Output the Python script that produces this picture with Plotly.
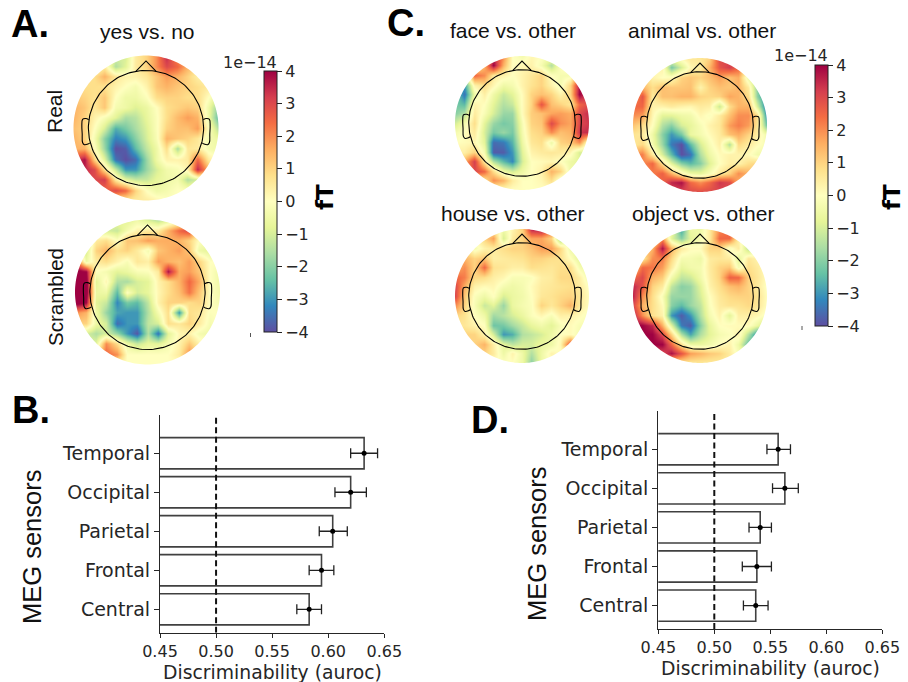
import numpy as np
import plotly.graph_objects as go

W, H = 908, 682

# ---- bar panels -------------------------------------------------------
sensors = ["Central", "Frontal", "Parietal", "Occipital", "Temporal"]
b_values = [0.583, 0.594, 0.604, 0.620, 0.632]
b_low = [0.572, 0.583, 0.592, 0.606, 0.620]
b_high = [0.594, 0.605, 0.617, 0.634, 0.644]
d_values = [0.537, 0.538, 0.541, 0.563, 0.557]
d_low = [0.526, 0.525, 0.531, 0.552, 0.547]
d_high = [0.548, 0.551, 0.551, 0.575, 0.568]
auroc_ticks = [0.45, 0.50, 0.55, 0.60, 0.65]
chance = 0.5

# ---- sensor-space maps, in units of 1e-14 fT, rows front (top) to back --
real_map = [
[0,0,0,0,-1,-1,.5,1,2,3.5,2,1,0,0,0],
[0,0,0,.5,-1.5,-.8,.5,1,2,3,2.5,1.5,.8,0,0],
[.8,.8,.8,1.5,.6,.3,.3,.6,1.2,1.8,1.5,1,.4,.3,0],
[.8,.8,.8,.7,.3,0,-.3,.3,1.2,1.5,1.2,1,.8,.5,0],
[1.2,1,.7,1.2,0,-.5,-.5,-.1,.8,1,1,.8,.8,0,-1],
[1.5,1.2,.6,1.2,-.3,-.5,-.9,-.6,0,.8,1,1.2,1,-.5,-2],
[1.5,1,.3,-.2,-.8,-1.6,-1.4,-.7,-.1,.8,1.4,1.8,1.5,-.5,-2.5],
[1.3,1,0,-1,-2.7,-2.2,-1.6,-.9,-.1,1,1.3,1.3,1.8,0,-1.5],
[1.5,1,-.3,-2,-3.3,-3,-2,-1,-.2,1.5,1.2,1,.6,-.3,-.6],
[1.5,1.5,0,-1.8,-4,-3.8,-2.5,-1.3,-.5,.8,-1.6,.6,.5,-.3,-.5],
[3,3.8,1,-.8,-3.5,-4,-3.6,-1.8,-.5,.3,.3,.5,2.5,.5,0],
[3,3.5,3,.8,-1.2,-3,-3,-1.8,-1,-.4,-.2,.3,3.5,1.5,0],
[3,3,3,3.2,.5,-.7,-1.2,-1.2,-.7,-.5,-.3,-1.5,-1,0,0],
[2,2,2.5,2.5,3,2.5,1,0,-.5,-.3,0,0,0,0,0],
[.5,.5,.5,.5,.5,.5,.5,.5,.3,0,0,0,0,0,0],
]
scrambled_map = [
[-1,-1,-1,-1,-.5,-.8,-.5,-1,-1.5,-1,-.5,0,0,0,0],
[-1,-1,-.8,-1,-1.2,-.3,.3,.5,.5,1.5,2.5,3,.8,0,0],
[-1,-1,.5,.8,0,1.2,1.3,1.8,1.6,1.6,1.5,1,0,-.5,-.5],
[-1,-1,1,1.5,.8,1,.5,-.3,1.2,1.5,1.8,1.2,-.5,-.8,-.8],
[3,-.5,.5,.8,.3,-.2,.6,.4,1.8,1.5,1.3,1.8,1,0,0],
[4.5,4,0,-.3,-.8,-.6,-.2,-.1,.5,3.8,1.6,1.8,1.2,0,-.5],
[4.5,4.5,-.8,.2,-1.5,-1.6,-1,-.8,.3,.8,1.5,2.5,1.6,0,-.5],
[4.5,4.5,-.6,-.5,-2.5,0,-1,-.7,.2,.8,1.3,2.3,1.2,0,-.4],
[4.5,4,-.8,-1.2,-3.2,-2.2,-2.5,-1.3,.3,1,1,.8,1,0,-.3],
[2,1.5,-.5,-1.8,-2.8,-3,-3,-1.5,-.3,.8,-3,.8,.6,-.1,0],
[1,1,-.5,-1,-3.6,-3,-3,-1.3,-1,.8,.6,1,.5,-.3,0],
[-1,-1,-1.5,-1,-1.8,-3,-3.9,-1.5,-3.5,-.8,.2,.3,-.3,-.5,0],
[-1,-1,-.8,2,.8,-.5,-1.2,-.7,-.8,-.3,.3,1.2,.3,0,0],
[1,1,1,2.5,2,0,0,0,0,0,.5,2,1,0,0],
[0,0,0,0,0,0,0,0,0,0,0,0,0,0,0],
]
face_map = [
[0,0,0,0,3.5,2,0,-.3,.2,0,-.3,0,0,0,0],
[0,0,0,1.5,4,1.5,0,.2,.3,-.3,-1.5,0,.3,0,0],
[-1,-1,2.5,2,.5,.3,0,.3,.6,1,0,-.3,-.3,2,2],
[-2,-3,.3,.8,.2,-.5,-.3,.3,.7,1,.3,-.3,1,3.8,2],
[-2,-3.5,-.5,.4,-.5,-1.2,-.8,.1,1,1.3,1,.3,1,4,3],
[-2.2,-2.5,.3,0,-.8,-1.5,-1.2,.1,1,2.8,1.3,1,.6,2.5,3],
[-2,-1.5,.5,-.2,-1,-1.8,-1.8,.1,1.1,1.3,1.7,1.8,1.6,3,3.5],
[-1,-.3,.8,-.8,-1.8,-2.2,-2,-.2,1,1.2,3,2,1.7,3,3.3],
[-.3,0,.5,-1,-2.2,-1.8,-2.2,-.3,.8,1,2,1.3,1.5,3.3,3.5],
[0,.1,.2,-.8,-3.6,-3.4,-2.6,-.5,.6,.8,-.5,1,1.2,2,-.5],
[.4,.4,1,-.3,-3.8,-3.8,-3,-.8,.3,.5,.6,.5,.2,-1,-.8],
[1.5,1.5,3.2,.5,-1.5,-2.5,-3.2,-1,0,.1,.2,0,-.5,-.8,-.8],
[2,2,3,2.5,.8,-.5,-1,-.5,0,.3,1.5,1,-.5,-.5,-.5],
[.5,.5,.5,.6,2,1.5,.5,0,0,.2,.8,-.5,0,0,0],
[0,0,0,0,0,0,0,0,0,0,0,0,0,0,0],
]
animal_map = [
[0,0,0,0,-.5,.2,.6,.6,1,3,3,1,0,0,0],
[0,0,0,.3,-2.2,-1,.2,.5,1.5,2.8,3.2,2.5,.5,0,0],
[1,1,.3,0,.1,1,1.2,1,1.3,1.8,1.3,1.6,-.6,-1.5,-1.5],
[1.5,1.5,.8,1.3,1.2,1.2,1.3,.3,1,1.3,1.2,1.5,.5,-2,-2.5],
[1.8,2.8,.5,1.3,1.3,1.5,1.5,1,.9,1,1.7,1.5,.8,-2,-3.5],
[2.5,2.5,.3,.3,.5,.3,.2,.5,.4,-1.2,.8,1.5,1.5,-1,-3.8],
[2,1.8,.2,-.8,-.8,-.5,-.4,.2,-.1,.5,1.3,2,2,.8,-3.5],
[1.2,.8,0,-1.5,-2,-1,-.7,-.2,.3,.6,1.8,2.2,1.8,.6,-2.5],
[.7,.5,-.5,-2,-3,-2.2,-.6,-.3,.1,.5,1.3,1.6,1,.4,-.5],
[.6,.9,-.3,-1.8,-3.4,-4,-2.5,-1,-.2,.4,-1.5,.9,.5,.1,-.3],
[2,2.2,.5,-1,-2.5,-4,-3.5,-1.5,-.5,.1,.3,.3,.1,-.4,-.4],
[2,2,2.5,.8,-.8,-2,-2.5,-2,-.9,0,.4,.3,.8,1,1],
[2,2,2.2,2.6,1.5,.3,-.5,-.7,-.2,.5,1,2,1.5,1,1],
[2,2,2.5,2.5,3.5,3.8,2.5,2,2.5,3.3,3,1.5,1,1,1],
[3,3,3,3,3,3,3,3,3,3,3,2,1,1,1],
]
house_map = [
[0,0,0,0,.5,-.5,.3,1,3.5,3.7,2.5,.5,0,0,0],
[0,0,0,1,1.8,-1,.5,1,1.7,1.7,1,-2,.5,0,0],
[1,1,-.3,.3,.5,.8,1,1,1.3,1.8,1.8,.9,-.5,-.8,-.8],
[1.5,1.5,1,1.2,.4,.5,.6,.7,1,1,.8,.7,0,-.8,-.7],
[1.5,2,1,2.5,.7,.6,.4,.4,.8,.7,.6,.8,.8,-.3,-.7],
[2.5,2.2,.9,.8,.4,.2,-.2,-.2,-.1,.4,.5,.9,.9,.4,-.5],
[3,1.6,.3,.1,.2,-.3,-.5,-.3,.1,.5,.6,.7,.8,.5,-.1],
[3,1.2,-.1,-.5,0,-1,-.6,-.4,0,.6,.7,.9,1,.6,0],
[2,1,-.2,-1.2,-.8,-1.8,-.6,-.3,-.1,1,.6,1,1.5,.5,0],
[1,.7,0,-.5,-1.7,-1.4,-1,-.6,-.1,.2,-.2,.4,.3,.1,-.2],
[.6,.6,.3,0,-2.3,-2.2,-1.7,-1.2,-.7,-.4,-.8,-.2,.1,-.2,-.2],
[1,1,1,.3,-1,-3,-2.7,-1.5,-1.3,-1,-.5,0,.1,-.3,-.3],
[1,1,1,1.5,.4,-.7,-1.3,-1,-1,-.6,-.5,.2,3,0,0],
[1,1,1,1,.5,-.5,.3,-.5,-1.5,-.5,.3,0,0,0,0],
[0,0,0,0,0,0,0,-.5,-2,-.5,0,0,0,0,0],
]
object_map = [
[0,0,0,0,-.5,-2.8,-.5,-.5,.5,2,2.5,.5,0,0,0],
[0,0,0,2,-.8,-2,-.8,-.3,.5,2.5,2.5,.3,-1,0,0],
[1,1,1.5,3.8,1.5,.5,.1,.1,1,1,-.2,.5,-1.5,-.5,-.5],
[.5,.5,2,2.2,.9,-.3,-.3,-.5,.5,.6,.5,-.8,.6,.3,0],
[1,2.5,2.3,1.8,.5,-.7,-.4,-.3,.5,1,1.2,-.3,.8,.5,0],
[2.5,3,1.5,1.1,-.4,-1.3,-1.1,-.4,.4,1,2.6,2.5,1,.6,0],
[3.5,2.8,1,.5,-1.3,-2,-1.8,-.8,.3,.8,1.3,1.5,1,.5,-.1],
[3.5,2,.8,-.2,-1.8,-1.8,-1.8,-1,0,.6,.9,1,1,.7,0],
[3,1.5,.8,.1,-2,-2.5,-1.8,-1.3,-.1,.5,.7,.7,.9,.6,0],
[3.5,2,.7,.3,-3,-3.8,-3,-1.5,-.3,.3,-.8,.4,.4,.2,-.2],
[4,4,3.5,1.5,-.8,-3.4,-3.8,-2,-.7,0,.1,.1,.1,-.6,-1.5],
[4,4,4,3,1,-1.5,-2.8,-1.5,-.8,-.3,-.1,.3,-1.5,-3.3,-3.3],
[4,4,4,4,2.5,.7,-.5,-.6,-.4,0,.3,-.5,-2.5,-2.5,-2.5],
[3,3,3,3,3.8,2.8,1.8,1.5,1.2,1,.5,-.2,-.5,-.5,-.5],
[.5,.5,.5,.5,.5,.5,.5,.5,.5,.5,.5,.5,.5,.5,.5],
]

grid_axis = np.linspace(-1, 1, 15)
theta = np.linspace(0, 2 * np.pi, 181)
PAD = 1.12
positions = list(range(len(sensors)))


def px(x):
    return x / W


def py(y):
    return 1 - y / H


fig = go.Figure()
shapes = []
anns = []
layout_axes = {}
INK = "#262626"


def topomap(n, z, cx, cy, r, cbar=None):
    xn, yn = f"x{n}", f"y{n}"
    rp = r * PAD
    layout_axes[f"xaxis{n}"] = dict(domain=[px(cx - rp), px(cx + rp)], range=[-PAD, PAD], visible=False,
                                    anchor=yn, fixedrange=True)
    layout_axes[f"yaxis{n}"] = dict(domain=[py(cy + rp), py(cy - rp)], range=[-PAD, PAD], visible=False,
                                    anchor=xn, fixedrange=True)
    fig.add_trace(go.Heatmap(
        z=np.array(z)[::-1], x=grid_axis, y=grid_axis, xaxis=xn, yaxis=yn,
        colorscale="Spectral_r", zmin=-4, zmax=4, zsmooth="best", hoverinfo="skip",
        showscale=cbar is not None, colorbar=cbar))
    # white mask outside the sensor disc
    o = PAD + 0.02
    ring = f"M{-o},{-o} L{o},{-o} L{o},{o} L{-o},{o} Z M" + " L".join(
        f"{np.cos(t):.4f},{np.sin(t):.4f}" for t in theta) + " Z"
    shapes.append(dict(type="path", path=ring, xref=xn, yref=yn, fillcolor="white",
                       fillrule="evenodd", line=dict(width=0), layer="above"))
    hr = 0.795
    hx = list(hr * np.cos(theta))
    hy = list(hr * np.sin(theta))
    line = dict(color="black", width=1.1)
    fig.add_trace(go.Scatter(x=hx, y=hy, mode="lines", line=line, xaxis=xn, yaxis=yn,
                             hoverinfo="skip", showlegend=False))
    fig.add_trace(go.Scatter(x=[-0.14, 0, 0.14], y=[0.782, 0.925, 0.782], mode="lines", line=line,
                             xaxis=xn, yaxis=yn, hoverinfo="skip", showlegend=False))
    ex = [0.79, 0.83, 0.875, 0.885, 0.88, 0.875, 0.85, 0.80, 0.775]
    ey = [0.115, 0.13, 0.12, 0.03, -0.08, -0.20, -0.23, -0.22, -0.205]
    for s in (-1, 1):
        fig.add_trace(go.Scatter(x=[s * v for v in ex], y=ey, mode="lines",
                                 line=dict(color="black", width=1.1, shape="spline"),
                                 xaxis=xn, yaxis=yn, hoverinfo="skip", showlegend=False))


def cbar_spec(x, top, bottom):
    return dict(x=px(x), xanchor="left", y=py(bottom), yanchor="bottom", len=(bottom - top) / H,
                lenmode="fraction", thickness=13, thicknessmode="pixels", outlinecolor="#222",
                outlinewidth=1, tickmode="array", tickvals=list(range(-4, 5)),
                ticks="outside", ticklen=5, tickcolor="#222", xpad=0, ypad=0,
                tickfont=dict(family="DejaVu Sans", size=16, color=INK))


topomap(3, real_map, 146, 128, 72.5, cbar_spec(264, 71, 332))
topomap(4, scrambled_map, 147.5, 292, 72.5)
topomap(5, face_map, 522, 123, 67, cbar_spec(815, 65, 326))
topomap(6, animal_map, 700, 125, 67)
topomap(7, house_map, 522, 296, 67)
topomap(8, object_map, 700, 296, 67)


def bars(n, values, low, high, left, right, top, bottom, ymax):
    xn = "x" if n == 1 else "x2"
    yn = "y" if n == 1 else "y2"
    suffix = "" if n == 1 else "2"
    fig.add_trace(go.Bar(y=positions, x=values, orientation="h", width=0.8, xaxis=xn, yaxis=yn,
                         marker=dict(color="white", line=dict(color="#404040", width=1.6)),
                         hoverinfo="skip", showlegend=False))
    fig.add_trace(go.Scatter(x=[chance, chance], y=[-0.6, ymax - 0.07], xaxis=xn, yaxis=yn, mode="lines",
                             line=dict(color="#111", width=2, dash="6px,3.5px"), hoverinfo="skip",
                             showlegend=False))
    fig.add_trace(go.Scatter(
        x=values, y=positions, mode="markers", xaxis=xn, yaxis=yn,
        marker=dict(color="black", size=5),
        error_x=dict(type="data", symmetric=False,
                     array=[h - v for h, v in zip(high, values)],
                     arrayminus=[v - l for l, v in zip(low, values)],
                     color="#222", thickness=1.3, width=5),
        hoverinfo="skip", showlegend=False))
    layout_axes[f"xaxis{suffix}"] = dict(
        domain=[px(left), px(right)], range=[0.45, 0.65], anchor=yn, tickmode="array",
        tickvals=auroc_ticks, tickformat=".2f", ticks="outside", ticklen=4, tickcolor=INK,
        showgrid=False, zeroline=False, showline=True, linecolor=INK, linewidth=1.2,
        tickfont=dict(family="DejaVu Sans", size=16, color=INK), fixedrange=True)
    layout_axes[f"yaxis{suffix}"] = dict(
        domain=[py(bottom), py(top)], range=[-0.6, ymax], anchor=xn, tickmode="array",
        tickvals=positions, ticktext=sensors, ticks="outside", ticklen=5, tickcolor=INK,
        showgrid=False, zeroline=False, showline=True, linecolor=INK, linewidth=1.2,
        tickfont=dict(family="DejaVu Sans", size=19, color=INK), fixedrange=True)


bars(1, b_values, b_low, b_high, 160, 384.3, 415, 632.7, 4.98)
bars(2, d_values, d_low, d_high, 658.3, 882.3, 411, 629, 4.98)


def text(s, x, y, size, family="Liberation Sans", color="#111", angle=0, bold=False):
    anns.append(dict(text=f"<b>{s}</b>" if bold else s, x=px(x), y=py(y), xref="paper", yref="paper",
                     showarrow=False, xanchor="center", yanchor="middle", textangle=angle,
                     font=dict(family=family, size=size, color=color)))


for s, x, y in [("A.", 30, 24), ("C.", 406, 23), ("B.", 31, 410), ("D.", 490, 420)]:
    text(s, x, y, 38, bold=True, color="black")
for s, x, y in [("yes vs. no", 147, 32), ("face vs. other", 513, 31), ("animal vs. other", 702, 31),
                ("house vs. other", 513, 214), ("object vs. other", 703, 214)]:
    text(s, x, y, 21)
text("Real", 55, 112, 21, angle=-90)
text("Scrambled", 55, 297, 20.5, angle=-90)
text("MEG sensors", 32, 547, 25.5, angle=-90)
text("MEG sensors", 537, 544, 25.5, angle=-90)
text("Discriminability (auroc)", 272, 672, 18.8, family="DejaVu Sans", color=INK)
text("Discriminability (auroc)", 770, 668, 18.8, family="DejaVu Sans", color=INK)
text("1e\u221214", 250, 62, 16, family="DejaVu Sans", color=INK)
text("1e\u221214", 801, 55, 16, family="DejaVu Sans", color=INK)
text("fT", 325, 197, 23, family="DejaVu Sans", angle=-90, bold=True, color="black")
text("fT", 892, 197, 23, family="DejaVu Sans", angle=-90, bold=True, color="black")

for x, y in [(250.5, 335), (802, 328)]:
    shapes.append(dict(type="line", xref="paper", yref="paper", x0=px(x), x1=px(x),
                       y0=py(y - 2), y1=py(y + 2), line=dict(color="#555", width=1)))

fig.update_layout(width=W, height=H, margin=dict(l=0, r=0, t=0, b=0, pad=0, autoexpand=False),
                  plot_bgcolor="white", paper_bgcolor="white", showlegend=False, shapes=shapes,
                  annotations=anns, barmode="overlay", **layout_axes)
fig.write_html("out.html", post_script="document.body.style.margin='0';",
               config={"displayModeBar": False})
